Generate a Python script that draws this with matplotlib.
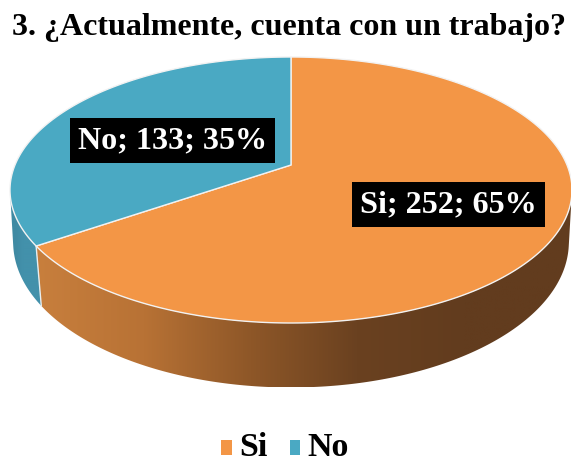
import numpy as np
import matplotlib
matplotlib.use("Agg")
import matplotlib.pyplot as plt
from matplotlib.colors import LinearSegmentedColormap
from matplotlib.patches import Patch, Polygon

plt.rcParams['font.family'] = ['Liberation Serif', 'DejaVu Serif']

# Datos del grafico
categories = ["Si", "No"]
values = [252, 133]
percent_labels = ["65%", "35%"]
title = "3. ¿Actualmente, cuenta con un trabajo?"

top_colors = ["#F39646", "#4AA9C3"]
side_colors = [
    ["#C87F3D", "#B87235", "#8E5728", "#6A4120", "#623C1E", "#623C1E"],
    ["#3F8AA3", "#3F8AA3", "#4391AB", "#4391AB", "#4391AB", "#4391AB"],
]

# Geometria de la proyeccion en perspectiva (pixeles)
CX, CY = 291, 165
A, B, K = 276, 128.3, 0.188


def project(theta, lower=False):
    # circulo unidad -> pantalla, la parte de atras se ve mas chica
    X = np.cos(theta)
    Y = np.sin(theta)
    w = 1 + K * Y
    sx = A * X / w
    sy = -B * Y / w
    if lower:
        # el borde inferior se cierra un poco hacia el frente
        shrink = 1 - 0.027 * np.sqrt(np.abs(Y))
        return CX + shrink * sx, CY + 55 + 1.06 * sy
    return CX + sx, CY + sy


fig = plt.figure(figsize=(5.71, 4.62), dpi=100)
ax = fig.add_axes([0, 0, 1, 1])
ax.set_xlim(0, 571)
ax.set_ylim(462, 0)
ax.axis("off")

# Angulos de cada porcion, en sentido horario desde arriba
fractions = np.array(values) / sum(values)
edges = np.pi / 2 - 2 * np.pi * np.concatenate([[0], np.cumsum(fractions)])

# Paredes laterales, entre los dos puntos extremos de la silueta
tangent = np.arcsin(K)
for i in range(len(values)):
    start, end = edges[i + 1], edges[i]
    lo = max(start, -np.pi + tangent)
    hi = min(end, -tangent)
    theta = np.linspace(lo, hi, 200)
    ux, uy = project(theta)
    lx, ly = project(theta, lower=True)
    pts = np.vstack([np.column_stack([ux, uy]), np.column_stack([lx, ly])[::-1]])
    poly = Polygon(pts, closed=True, fc="none", ec="none")
    ax.add_patch(poly)
    cmap = LinearSegmentedColormap.from_list("side%d" % i, side_colors[i])
    xs = (pts[:, 0].min(), pts[:, 0].max())
    ys = (pts[:, 1].min(), pts[:, 1].max())
    im = ax.imshow(np.linspace(0, 1, 256).reshape(1, -1), cmap=cmap, aspect="auto",
                   extent=(xs[0], xs[1], ys[1], ys[0]), zorder=1)
    im.set_clip_path(poly)
ax.set_xlim(0, 571)
ax.set_ylim(462, 0)

# Separador entre las dos paredes
sep = edges[1]
ux, uy = project(sep)
lx, ly = project(sep, lower=True)
ax.plot([ux, lx], [uy, ly], color="#E8EEF0", lw=1, zorder=2)

# Cara superior
for i in range(len(values)):
    theta = np.linspace(edges[i], edges[i + 1], 300)
    x, y = project(theta)
    ax.fill(np.r_[CX, x], np.r_[CY, y], facecolor=top_colors[i], edgecolor="#F2F2F2",
            lw=1.0, joinstyle="round", zorder=3)

# Etiquetas de datos
label_pos = [(448.5, 204.5), (172.5, 140.5)]
for i in range(len(values)):
    ax.text(label_pos[i][0], label_pos[i][1],
            "%s; %d; %s" % (categories[i], values[i], percent_labels[i]),
            color="white", fontsize=23.1, fontweight="bold", ha="center", va="center",
            bbox=dict(facecolor="black", edgecolor="none", pad=6), zorder=5)

ax.text(289, 27, title, fontsize=23, fontweight="bold", ha="center", va="center",
        color="black", zorder=5)

handles = [Patch(facecolor=top_colors[i], edgecolor="none") for i in range(len(values))]
leg = ax.legend(handles, categories, loc="center", bbox_to_anchor=(283.5 / 571, 1 - 447 / 462),
                ncol=2, frameon=False, handlelength=0.3, handleheight=0.3, handletextpad=0.29,
                columnspacing=0.58, prop=dict(size=24.5, weight="bold"))
# los cuadritos van un poco mas abajo que la linea base
for h in leg.legend_handles:
    h.set_y(h.get_y() - 3)
    h.set_x(h.get_x() + 2)

fig.savefig("out.png", dpi=100)
